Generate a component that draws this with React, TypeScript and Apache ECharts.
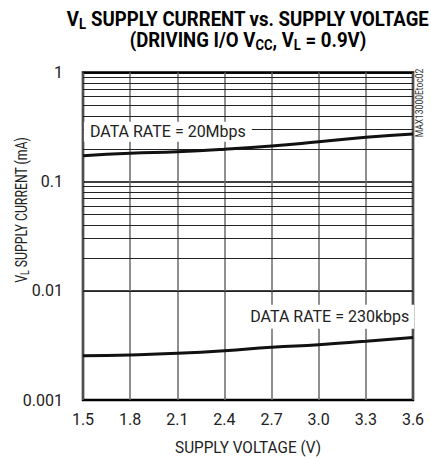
import React, { useEffect, useRef } from "react";
import * as echarts from "echarts";

const supplyVoltage = [1.5, 1.8, 2.1, 2.4, 2.7, 3.0, 3.3, 3.6];
const rate20Mbps = [0.173, 0.182, 0.188, 0.198, 0.212, 0.232, 0.255, 0.273];
const rate230kbps = [0.00254, 0.00259, 0.00268, 0.00283, 0.00305, 0.00321, 0.00345, 0.00373];
const yTickLabels = ["0.001", "0.01", "0.1", "1"];
const minorGridValues = [
  0.002, 0.003, 0.004, 0.005, 0.006, 0.007, 0.008, 0.009,
  0.02, 0.03, 0.04, 0.05, 0.06, 0.07, 0.08, 0.09,
  0.2, 0.3, 0.4, 0.5, 0.6, 0.7, 0.8, 0.9,
];
const label20M = { text: "DATA RATE = 20Mbps", x: 2.04, y: 0.287 };
const label230k = { text: "DATA RATE = 230kbps", x: 3.07, y: 0.0058 };

const FONT = "Roboto, 'Liberation Sans', sans-serif";

export default function App() {
  const ref = useRef<HTMLDivElement>(null);
  useEffect(() => {
    document.body.style.margin = "0";
    const chart = echarts.init(ref.current!, null, { renderer: "svg" });
    const markerLabel = (t: string, pad: number[]) => ({
      show: true,
      position: "inside",
      formatter: t,
      fontFamily: FONT,
      fontSize: 16,
      color: "#222",
      backgroundColor: "#fff",
      padding: pad,
    });
    chart.setOption({
      animation: false,
      textStyle: { fontFamily: FONT },
      grid: {
        left: 83,
        right: 18,
        top: 72.5,
        bottom: 59,
        show: true,
        borderColor: "#000",
        borderWidth: 2.5,
        backgroundColor: "transparent",
      },
      xAxis: {
        type: "value",
        min: 1.5,
        max: 3.6,
        interval: 0.3,
        axisLine: { show: false },
        axisTick: { show: false },
        axisLabel: {
          margin: 11,
          fontSize: 16,
          color: "#222",
          fontFamily: FONT,
          formatter: (v: number) => v.toFixed(1),
        },
        splitLine: { show: true, lineStyle: { color: "#6a6a6a", width: 1.5 } },
      },
      yAxis: {
        type: "log",
        logBase: 10,
        min: 0.001,
        max: 1,
        axisLine: { show: false },
        axisTick: { show: false },
        axisLabel: {
          margin: 20,
          fontSize: 16,
          color: "#222",
          fontFamily: FONT,
          formatter: (_v: number, i: number) => yTickLabels[i],
        },
        splitLine: { show: true, lineStyle: { color: "#000", width: 1.5 } },
      },
      graphic: [
        {
          type: "text",
          x: 248,
          y: 30,
          scaleX: 0.93,
          style: {
            text:
              "{b|V}{s|L}{b| SUPPLY CURRENT vs. SUPPLY VOLTAGE}\n{b|(DRIVING I/O V}{s|CC}{b|, V}{s|L}{b| = 0.9V)}",
            align: "center",
            verticalAlign: "middle",
            rich: {
              b: { fontFamily: FONT, fontSize: 20, fontWeight: "bold", lineHeight: 21, fill: "#000" },
              s: { fontFamily: FONT, fontSize: 14, fontWeight: "bold", lineHeight: 21, padding: [9, 0, 0, 0], fill: "#000" },
            },
          },
        },
        {
          type: "text",
          x: 21,
          y: 210,
          rotation: Math.PI / 2,
          scaleX: 0.72,
          style: {
            text: "{n|V}{s|L}{n| SUPPLY CURRENT (mA)}",
            align: "center",
            verticalAlign: "middle",
            rich: {
              n: { fontFamily: FONT, fontSize: 17, lineHeight: 20, fill: "#222" },
              s: { fontFamily: FONT, fontSize: 12, lineHeight: 20, padding: [8, 0, 0, 0], fill: "#222" },
            },
          },
        },
        {
          type: "text",
          x: 248,
          y: 447,
          scaleX: 0.9,
          style: {
            text: "SUPPLY VOLTAGE (V)",
            align: "center",
            verticalAlign: "middle",
            fontFamily: FONT,
            fontSize: 17,
            fill: "#222",
          },
        },
        {
          type: "text",
          x: 419,
          y: 103,
          rotation: Math.PI / 2,
          scaleX: 0.85,
          style: {
            text: "MAX13000Etoc02",
            align: "center",
            verticalAlign: "middle",
            fontFamily: FONT,
            fontSize: 10,
            fill: "#333",
          },
        },
      ],
      series: [
        {
          type: "line",
          data: [],
          z: 1,
          silent: true,
          markLine: {
            z: 1,
            silent: true,
            symbol: "none",
            label: { show: false },
            lineStyle: { color: "#222", width: 1, type: "solid" },
            data: minorGridValues.map((v) => ({ yAxis: v })),
          },
        },
        {
          type: "line",
          name: "20Mbps",
          data: supplyVoltage.map((x, i) => [x, rate20Mbps[i]]),
          smooth: true,
          symbol: "none",
          z: 3,
          lineStyle: { color: "#111", width: 3 },
          markPoint: {
            z: 10,
            symbol: "rect",
            symbolSize: 1,
            itemStyle: { color: "rgba(0,0,0,0)" },
            data: [{ coord: [label20M.x, label20M.y], label: markerLabel(label20M.text, [2, 6, 2, 6]) }],
          },
        },
        {
          type: "line",
          name: "230kbps",
          data: supplyVoltage.map((x, i) => [x, rate230kbps[i]]),
          smooth: true,
          symbol: "none",
          z: 3,
          lineStyle: { color: "#111", width: 3 },
          markPoint: {
            z: 10,
            symbol: "rect",
            symbolSize: 1,
            itemStyle: { color: "rgba(0,0,0,0)" },
            data: [{ coord: [label230k.x, label230k.y], label: markerLabel(label230k.text, [4, 5, 4, 5]) }],
          },
        },
      ],
    });
    return () => chart.dispose();
  }, []);
  return <div ref={ref} style={{ width: 431, height: 459 }} />;
}
